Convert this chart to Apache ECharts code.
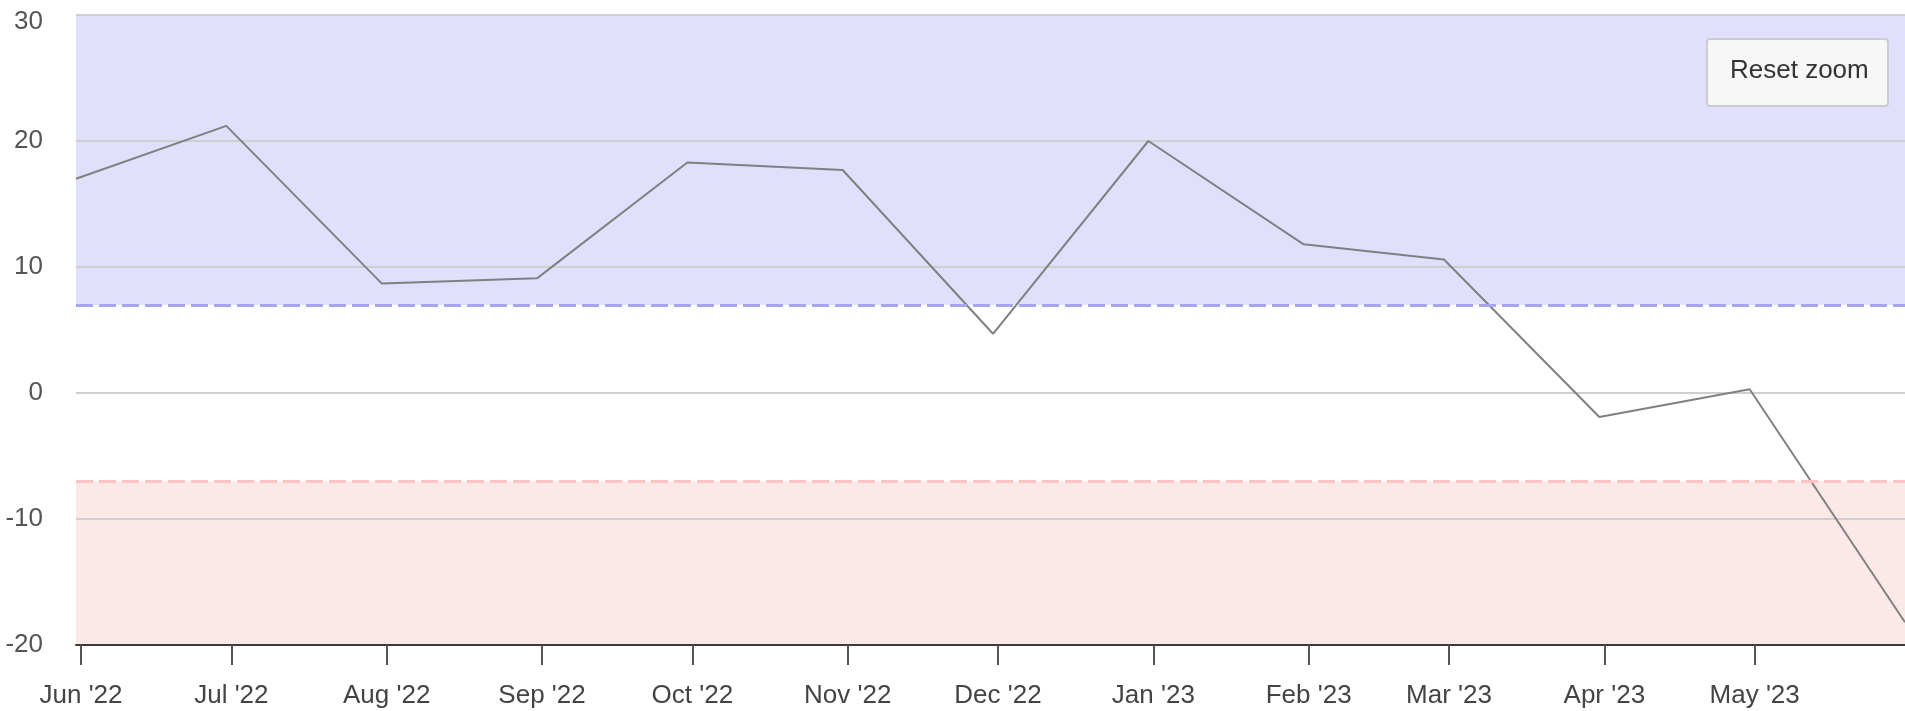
<!DOCTYPE html>
<html>
<head>
<meta charset="utf-8">
<title>chart</title>
<script src="https://cdn.jsdelivr.net/npm/echarts@6/dist/echarts.min.js"></script>
<style>
  html, body { margin: 0; padding: 0; background: #fff; }
  #main { width: 1905px; height: 711px; }
</style>
</head>
<body>
<div id="main"></div>
<script>
/* data: month-end points */
var dates = ['2022-05-31', '2022-06-30', '2022-07-31', '2022-08-31', '2022-09-30', '2022-10-31',
  '2022-11-30', '2022-12-31', '2023-01-31', '2023-02-28', '2023-03-31', '2023-04-30', '2023-05-31']
var values = [17.0, 21.2, 8.7, 9.1, 18.3, 17.7, 4.7, 20.0, 11.8, 10.6, -1.9, 0.3, -18.2]
var tickLabels = ["Jun '22", "Jul '22", "Aug '22", "Sep '22", "Oct '22", "Nov '22", "Dec '22",
  "Jan '23", "Feb '23", "Mar '23", "Apr '23", "May '23"]
var yTicks = [-20, -10, 0, 10, 20, 30]
var upperLimit = 7
var lowerLimit = -7

var FONT = '"Liberation Sans", Arial, sans-serif'
var DAY = 24 * 3600 * 1000

var chart = echarts.init(document.getElementById('main'))

var points = dates.map(function (d, i) { return [d, values[i]] })

var option = {
  animation: false,
  grid: { left: 76, right: 0, top: 15, bottom: 66 },
  xAxis: {
    type: 'time',
    min: dates[0],
    max: dates[dates.length - 1],
    minInterval: 28 * DAY,
    maxInterval: 31 * DAY,
    z: 2,
    axisLine: { onZero: false, lineStyle: { color: '#3a3a3a', width: 2 } },
    axisTick: { show: true, length: 20, lineStyle: { color: '#555', width: 2 } },
    splitLine: { show: false },
    axisLabel: {
      margin: 38,
      color: '#444',
      fontSize: 26,
      fontFamily: FONT,
      hideOverlap: false,
      formatter: function (val) {
        var d = new Date(val)
        var idx = (d.getFullYear() - 2022) * 12 + d.getMonth() - 5
        return tickLabels[idx] || ''
      }
    }
  },
  yAxis: {
    type: 'value',
    min: yTicks[0],
    max: yTicks[yTicks.length - 1],
    interval: 10,
    z: 2,
    axisLine: { show: false },
    axisTick: { show: false },
    splitLine: { lineStyle: { color: '#cfcfcf', width: 2 } },
    axisLabel: {
      margin: 33, color: '#555', fontSize: 26, fontFamily: FONT,
      formatter: function (v) {
        // top label sits a bit lower, inside the chart
        return v === yTicks[yTicks.length - 1] ? '{top|' + v + '}' : String(v)
      },
      rich: { top: { fontSize: 26, fontFamily: FONT, color: '#555', padding: [14, 0, 0, 0] } }
    }
  },
  series: [{
    /* bands below the grid lines */
    type: 'line',
    z: 1,
    data: [],
    markArea: {
      silent: true,
      data: [
        [{ yAxis: upperLimit, itemStyle: { color: '#e0e0fc' } }, { yAxis: yTicks[yTicks.length - 1] }],
        [{ yAxis: yTicks[0], itemStyle: { color: '#fde8e8' } }, { yAxis: lowerLimit }]
      ]
    }
  }, {
    type: 'line',
    z: 3,
    data: points,
    symbol: 'none',
    lineStyle: { color: '#808080', width: 2 },
    markLine: {
      silent: true,
      symbol: 'none',
      label: { show: false },
      data: [
        { yAxis: upperLimit, lineStyle: { color: '#a6a6ee', width: 3, type: [17, 6] } },
        { yAxis: lowerLimit, lineStyle: { color: '#fcc4c4', width: 3, type: [17, 6] } }
      ]
    }
  }]
}
chart.setOption(option)

/* reset zoom button, top right */
chart.setOption({
  graphic: [{
    type: 'rect',
    left: 1706,
    top: 38,
    z: 100,
    shape: { width: 181, height: 67, r: 3 },
    style: { fill: '#f7f7f7', stroke: '#cccccc', lineWidth: 2 }
  }, {
    type: 'text',
    left: 1730,
    top: 58,
    z: 101,
    style: { text: 'Reset zoom', fill: '#333', fontSize: 26, fontFamily: FONT }
  }]
})
</script>
</body>
</html>
